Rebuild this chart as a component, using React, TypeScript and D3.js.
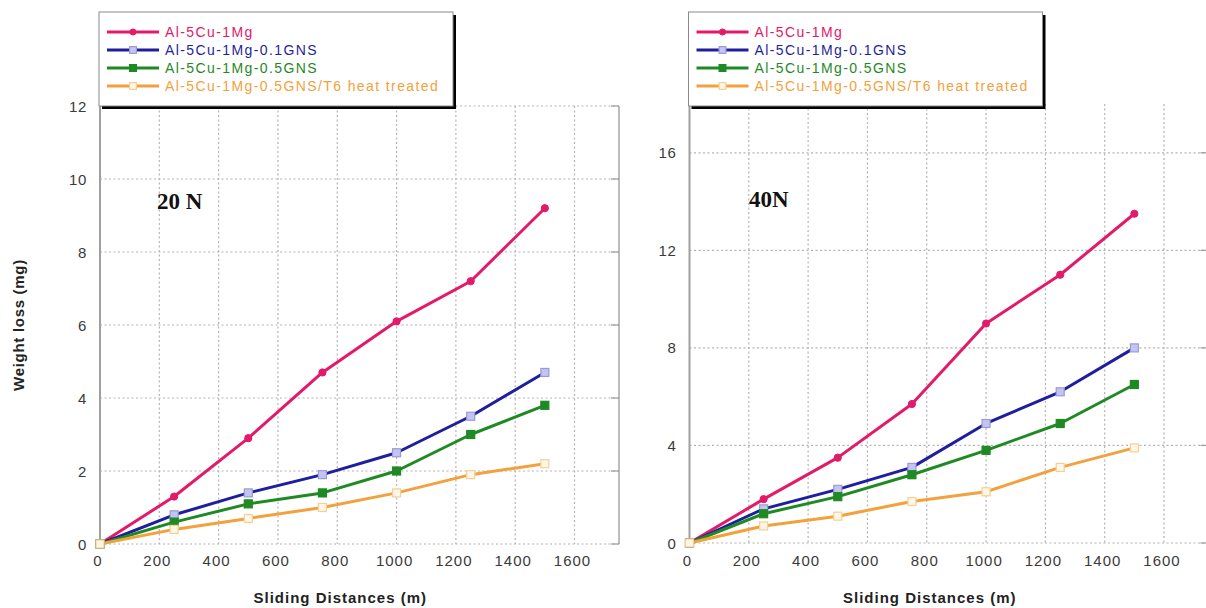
import React from "react";
import * as d3 from "d3";

const distances = [0, 250, 500, 750, 1000, 1250, 1500];

const seriesNames = [
  "Al-5Cu-1Mg",
  "Al-5Cu-1Mg-0.1GNS",
  "Al-5Cu-1Mg-0.5GNS",
  "Al-5Cu-1Mg-0.5GNS/T6 heat treated",
];

// 20 N
const load20_base = [0, 1.3, 2.9, 4.7, 6.1, 7.2, 9.2];
const load20_01 = [0, 0.8, 1.4, 1.9, 2.5, 3.5, 4.7];
const load20_05 = [0, 0.6, 1.1, 1.4, 2.0, 3.0, 3.8];
const load20_t6 = [0, 0.4, 0.7, 1.0, 1.4, 1.9, 2.2];

// 40 N
const load40_base = [0, 1.8, 3.5, 5.7, 9.0, 11.0, 13.5];
const load40_01 = [0, 1.4, 2.2, 3.1, 4.9, 6.2, 8.0];
const load40_05 = [0, 1.2, 1.9, 2.8, 3.8, 4.9, 6.5];
const load40_t6 = [0, 0.7, 1.1, 1.7, 2.1, 3.1, 3.9];

const xTicks = [0, 200, 400, 600, 800, 1000, 1200, 1400, 1600];
const yTicks20 = [0, 2, 4, 6, 8, 10, 12];
const yTicks40 = [0, 4, 8, 12, 16];

const colors = ["#e3196a", "#1f1f9e", "#1f8a24", "#f3a13c"];
const markerFill = ["#e3196a", "#c4c4f2", "#1f8a24", "#fff6e6"];
const markerStroke = ["#e3196a", "#9a9ad8", "#1f8a24", "#f6cf98"];

const SANS = "'Liberation Sans', Arial, Helvetica, sans-serif";
const SERIF = "'Liberation Serif', 'Times New Roman', serif";

function Marker({ i, x, y, size = 1 }: { i: number; x: number; y: number; size?: number }) {
  if (i === 0) {
    return <circle cx={x} cy={y} r={3.6 * size} fill={markerFill[i]} stroke={markerStroke[i]} strokeWidth={1} />;
  }
  const s = 4 * size;
  return (
    <rect
      x={x - s}
      y={y - s}
      width={2 * s}
      height={2 * s}
      fill={markerFill[i]}
      stroke={markerStroke[i]}
      strokeWidth={1.2}
    />
  );
}

function Panel({
  x0,
  x1,
  yTop,
  yBottom,
  yMax,
  yTicks,
  data,
  label,
  labelX,
  labelY,
}: {
  x0: number;
  x1: number;
  yTop: number;
  yBottom: number;
  yMax: number;
  yTicks: number[];
  data: number[][];
  label: string;
  labelX: number;
  labelY: number;
}) {
  const x = d3.scaleLinear().domain([0, 1750]).range([x0, x1]);
  const y = d3.scaleLinear().domain([0, yMax]).range([yBottom, yTop]);
  const line = d3
    .line<number>()
    .x((_, k) => x(distances[k]))
    .y((v) => y(v));

  const legendX = x0 - 1;
  const legendW = 354;
  const legendTop = 12;
  const legendH = 94;

  return (
    <g>
      {/* grid */}
      {xTicks
        .filter((t) => t > 0)
        .map((t) => (
          <line
            key={"gx" + t}
            x1={x(t)}
            x2={x(t)}
            y1={yTop}
            y2={yBottom}
            stroke="#b4b4b4"
            strokeWidth={1.2}
            strokeDasharray="2,2.5"
          />
        ))}
      {yTicks.map((t) => (
        <line
          key={"gy" + t}
          x1={x0}
          x2={x1}
          y1={y(t)}
          y2={y(t)}
          stroke="#b4b4b4"
          strokeWidth={1.2}
          strokeDasharray="2,2.5"
        />
      ))}
      {/* right frame with inward ticks */}
      <line x1={x1} x2={x1} y1={yTop} y2={yBottom} stroke="#9a9a9a" strokeWidth={1.3} />
      {yTicks.map((t) => (
        <line key={"rt" + t} x1={x1 - 8} x2={x1} y1={y(t)} y2={y(t)} stroke="#9a9a9a" strokeWidth={1.2} />
      ))}
      {/* left axis */}
      <line x1={x0} x2={x0} y1={yTop - 4} y2={yBottom + 2} stroke="#a0a0a0" strokeWidth={2} />

      {/* y tick labels */}
      {yTicks.map((t) => (
        <text
          key={"yl" + t}
          x={x0 - 13}
          y={y(t) + 5.5}
          textAnchor="end"
          fontFamily={SANS}
          fontSize={15}
          letterSpacing={0.6}
          fill="#3a3a3a"
        >
          {t}
        </text>
      ))}
      {/* x tick labels */}
      {xTicks.map((t) => (
        <text
          key={"xl" + t}
          x={x(t) - 2}
          y={566}
          textAnchor="middle"
          fontFamily={SANS}
          fontSize={15}
          letterSpacing={1}
          fill="#3a3a3a"
        >
          {t}
        </text>
      ))}
      <text
        x={x(800) + 3}
        y={603}
        textAnchor="middle"
        fontFamily={SANS}
        fontWeight="bold"
        fontSize={15}
        letterSpacing={1}
        fill="#222"
      >
        Sliding Distances (m)
      </text>

      {/* series */}
      {data.map((vals, i) => (
        <path key={"l" + i} d={line(vals) || ""} fill="none" stroke={colors[i]} strokeWidth={3} strokeLinejoin="round" />
      ))}
      {data.map((vals, i) =>
        vals.map((v, k) => <Marker key={"m" + i + "-" + k} i={i} x={x(distances[k])} y={y(v)} />)
      )}

      {/* load label */}
      <text x={labelX} y={labelY} fontFamily={SERIF} fontWeight="bold" fontSize={23} fill="#111">
        {label}
      </text>

      {/* legend */}
      <rect x={legendX + 3} y={legendTop + 3} width={legendW} height={legendH} fill="#000" />
      <rect x={legendX} y={legendTop} width={legendW} height={legendH} fill="#fff" stroke="#8a8a8a" strokeWidth={1} />
      {seriesNames.map((name, i) => {
        const ry = legendTop + 20 + i * 18;
        return (
          <g key={"lg" + i}>
            <line x1={legendX + 8} x2={legendX + 60} y1={ry} y2={ry} stroke={colors[i]} strokeWidth={3} />
            <Marker i={i} x={legendX + 34} y={ry} size={0.85} />
            <text
              x={legendX + 66}
              y={ry + 5}
              fontFamily={SANS}
              fontSize={14}
              letterSpacing={1.4}
              fill={colors[i]}
            >
              {name}
            </text>
          </g>
        );
      })}
    </g>
  );
}

export default function App() {
  const data20 = [load20_base, load20_01, load20_05, load20_t6];
  const data40 = [load40_base, load40_01, load40_05, load40_t6];
  return (
    <svg
      width={1206}
      height={608}
      style={{ position: "absolute", left: 0, top: 0, background: "#fff" }}
    >
      <rect x={0} y={0} width={1206} height={608} fill="#fff" />
      <Panel
        x0={100}
        x1={619}
        yTop={106}
        yBottom={544}
        yMax={12}
        yTicks={yTicks20}
        data={data20}
        label="20 N"
        labelX={157}
        labelY={209}
      />
      <Panel
        x0={689.5}
        x1={1208.5}
        yTop={104}
        yBottom={543}
        yMax={18}
        yTicks={yTicks40}
        data={data40}
        label="40N"
        labelX={749}
        labelY={207}
      />
      <text
        transform="translate(24,325) rotate(-90)"
        textAnchor="middle"
        fontFamily={SANS}
        fontWeight="bold"
        fontSize={15}
        letterSpacing={0.7}
        fill="#222"
      >
        Weight loss (mg)
      </text>
    </svg>
  );
}
